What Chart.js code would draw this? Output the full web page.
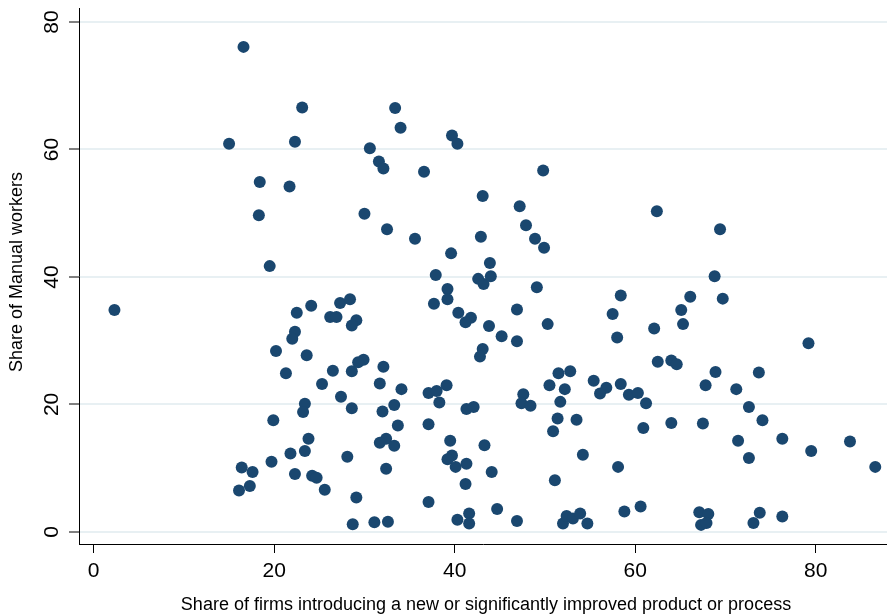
<!DOCTYPE html>
<html>
<head>
<meta charset="utf-8">
<script src="https://cdn.jsdelivr.net/npm/chart.js@4/dist/chart.umd.min.js"></script>
<style>
  html, body { margin: 0; padding: 0; background: #ffffff; }
  canvas { display: block; }
</style>
</head>
<body>
<canvas id="chart" width="887" height="615"></canvas>
<script>
// Share of firms introducing a new or significantly improved product or process (%)
const innovShare = [
  2.3, 15.0, 16.6, 18.4, 18.3, 19.5, 21.7, 22.3, 23.1, 22.5,
  24.1, 26.2, 26.9, 22.3, 22.0, 20.2, 23.6, 21.3, 26.5, 25.3,
  23.4, 23.2, 19.9, 23.8, 23.4, 21.8, 19.7, 16.4, 17.6, 22.3,
  24.2, 24.7, 17.3, 16.1, 25.6, 27.3, 28.4, 29.1, 28.6, 29.9,
  29.3, 32.1, 28.6, 31.7, 34.1, 27.4, 28.6, 33.3, 32.0, 33.7,
  32.4, 31.7, 33.3, 28.1, 32.4, 29.1, 28.7, 31.1, 32.6, 30.6,
  33.4, 34.0, 31.6, 32.1, 36.6, 39.7, 40.3, 43.1, 49.8, 47.2,
  30.0, 32.5, 35.6, 42.9, 47.9, 48.9, 49.9, 39.6, 43.9, 37.9,
  42.6, 43.2, 44.0, 49.1, 39.2, 39.2, 37.7, 46.9, 40.4, 41.8,
  41.2, 43.8, 50.3, 45.2, 46.9, 43.1, 42.8, 37.1, 38.0, 39.1,
  38.3, 37.1, 41.3, 42.1, 39.5, 43.3, 39.7, 39.2, 40.1, 41.3,
  44.1, 41.2, 37.1, 44.7, 40.3, 41.6, 41.6, 46.9, 47.6, 47.4,
  48.4, 50.5, 51.5, 52.8, 52.2, 51.7, 51.4, 50.9, 51.1, 52.0,
  52.4, 53.1, 53.9, 54.7, 53.5, 54.2, 55.4, 56.8, 56.1, 58.4,
  59.3, 60.3, 61.2, 60.9, 58.1, 58.8, 60.6, 62.4, 69.4, 68.8,
  58.4, 66.1, 69.7, 65.1, 57.5, 65.3, 62.1, 58.0, 79.2, 62.5,
  64.0, 64.6, 64.0, 67.5, 67.8, 68.9, 71.2, 73.7, 72.6, 74.1,
  71.4, 72.6, 76.3, 79.5, 83.8, 86.6, 67.1, 68.1, 67.3, 67.9,
  73.8, 73.1, 76.3
];

// Share of manual workers (%)
const manualShare = [
  34.8, 60.9, 76.1, 54.9, 49.7, 41.7, 54.2, 61.2, 66.6, 34.4,
  35.5, 33.7, 33.7, 31.4, 30.3, 28.4, 27.7, 24.9, 25.3, 23.2,
  20.1, 18.8, 17.5, 14.6, 12.7, 12.3, 11.0, 10.1, 9.4, 9.1,
  8.8, 8.5, 7.2, 6.5, 6.6, 35.9, 36.5, 33.2, 32.4, 27.0,
  26.6, 25.9, 25.2, 23.3, 22.4, 21.2, 19.4, 19.9, 18.9, 16.7,
  14.6, 14.0, 13.5, 11.8, 9.9, 5.4, 1.2, 1.5, 1.6, 60.2,
  66.5, 63.4, 58.1, 57.0, 56.5, 62.2, 60.9, 52.7, 56.7, 51.1,
  49.9, 47.5, 46.0, 46.3, 48.1, 46.0, 44.6, 43.7, 42.2, 40.3,
  39.7, 38.9, 40.1, 38.4, 38.1, 36.5, 35.8, 34.9, 34.4, 33.6,
  32.9, 32.3, 32.6, 30.7, 29.9, 28.7, 27.5, 21.8, 22.1, 23.0,
  20.3, 16.9, 19.3, 19.6, 14.3, 13.6, 12.0, 11.4, 10.2, 10.7,
  9.4, 7.5, 4.7, 3.6, 1.9, 2.9, 1.3, 1.7, 21.6, 20.2,
  19.8, 23.0, 24.9, 25.2, 22.4, 20.4, 17.8, 15.8, 8.1, 1.3,
  2.5, 2.1, 2.9, 1.3, 17.6, 12.1, 23.7, 22.6, 21.7, 23.2,
  21.5, 21.8, 20.2, 16.3, 10.2, 3.2, 4.0, 50.3, 47.5, 40.1,
  37.1, 36.9, 36.6, 34.8, 34.2, 32.6, 31.9, 30.5, 29.6, 26.7,
  26.9, 26.3, 17.1, 17.0, 23.0, 25.1, 22.4, 25.0, 19.6, 17.5,
  14.3, 11.6, 14.6, 12.7, 14.2, 10.2, 3.1, 2.8, 1.1, 1.4,
  3.0, 1.4, 2.4
];

const xTicks = [0, 20, 40, 60, 80];
const yTicks = [0, 20, 40, 60, 80];
const xTitle = 'Share of firms introducing a new or significantly improved product or process';
const yTitle = 'Share of Manual workers';

const points = innovShare.map((x, i) => ({ x: x, y: manualShare[i] }));

const FONT = '"Liberation Sans", Arial, Helvetica, sans-serif';

// Tick labels and axis titles, placed through the scales
const axisText = {
  id: 'axisText',
  afterDraw(chart) {
    const ctx = chart.ctx;
    const xs = chart.scales.x;
    const ys = chart.scales.y;
    const area = chart.chartArea;
    ctx.save();
    ctx.fillStyle = '#000000';

    // x tick labels
    ctx.font = '21px ' + FONT;
    ctx.textAlign = 'center';
    ctx.textBaseline = 'alphabetic';
    xTicks.forEach(v => {
      ctx.fillText(String(v), xs.getPixelForValue(v), area.bottom + 33);
    });

    // y tick labels, rotated
    yTicks.forEach(v => {
      ctx.save();
      ctx.translate(area.left - 21, ys.getPixelForValue(v));
      ctx.rotate(-Math.PI / 2);
      ctx.textAlign = 'center';
      ctx.textBaseline = 'alphabetic';
      ctx.fillText(String(v), 0, 0);
      ctx.restore();
    });

    // axis titles
    ctx.font = '18px ' + FONT;
    ctx.textAlign = 'center';
    ctx.textBaseline = 'alphabetic';
    ctx.fillText(xTitle, (area.left + area.right) / 2 + 3, area.bottom + 66);

    ctx.save();
    ctx.translate(22, (area.top + area.bottom) / 2 - 4);
    ctx.rotate(-Math.PI / 2);
    ctx.fillText(yTitle, 0, 0);
    ctx.restore();

    ctx.restore();
  }
};

new Chart(document.getElementById('chart'), {
  type: 'scatter',
  data: {
    datasets: [{
      data: points,
      backgroundColor: '#1a476f',
      borderColor: '#1a476f',
      borderWidth: 0,
      pointRadius: 6,
      pointHoverRadius: 6
    }]
  },
  options: {
    responsive: false,
    devicePixelRatio: 1,
    animation: false,
    events: [],
    layout: { autoPadding: false, padding: { top: 8, right: 0, bottom: 0, left: 0 } },
    plugins: {
      legend: { display: false },
      tooltip: { enabled: false }
    },
    scales: {
      x: {
        type: 'linear',
        min: -1.63,
        max: 87.9,
        afterBuildTicks: s => { s.ticks = xTicks.map(v => ({ value: v })); },
        afterFit: s => { s.height = 71; },
        ticks: { display: false },
        grid: {
          drawOnChartArea: false,
          drawTicks: true,
          tickLength: 9,
          tickColor: '#000000',
          tickWidth: 1
        },
        border: { display: true, color: '#000000', width: 1 }
      },
      y: {
        type: 'linear',
        min: -1.9,
        max: 82.2,
        afterBuildTicks: s => { s.ticks = yTicks.map(v => ({ value: v })); },
        afterFit: s => { s.width = 79; },
        ticks: { display: false },
        grid: {
          color: '#e8f0f3',
          lineWidth: 2,
          drawTicks: true,
          tickLength: 10,
          tickColor: '#000000',
          tickWidth: 1
        },
        border: { display: true, color: '#000000', width: 1 }
      }
    }
  },
  plugins: [axisText]
});
</script>
</body>
</html>
